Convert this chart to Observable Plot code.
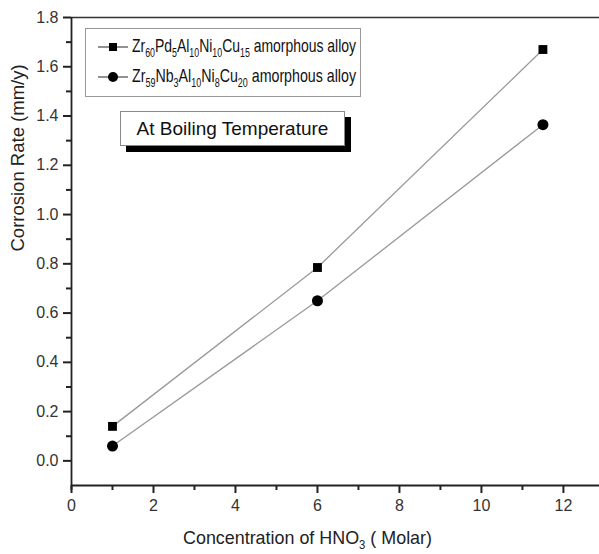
<!DOCTYPE html>
<html><head><meta charset="utf-8">
<script src="https://cdn.jsdelivr.net/npm/d3@7"></script>
<script src="https://cdn.jsdelivr.net/npm/@observablehq/plot@0.6"></script>
<style>
body{margin:0;background:#fff;font-family:"Liberation Sans",Arial,sans-serif;}
#wrap{position:relative;width:599px;height:554px;}
.legend{position:absolute;left:85px;top:28px;width:276px;height:69px;border:1px solid #999;background:#fff;box-sizing:border-box;}
.row{position:absolute;left:12px;height:20px;white-space:nowrap;}
.row svg{position:absolute;left:0;top:4px;}
.row .txt{position:absolute;left:34px;top:-2px;font-size:19px;color:#111;transform-origin:0 50%;display:inline-block;}
sub{font-size:12px;vertical-align:-5px;line-height:0;}
.note{position:absolute;left:120px;top:111px;width:225px;height:35px;border:1px solid #888;background:#fff;box-sizing:border-box;box-shadow:6px 6px 0 #000;font-size:19px;color:#111;text-align:center;line-height:33px;}
.xlab{position:absolute;top:527px;font-size:19px;color:#222;white-space:nowrap;transform-origin:0 50%;}
</style></head>
<body><div id="wrap"></div>
<script>
const xVals = [1, 6, 11.5];
const pdAlloy = [0.14, 0.785, 1.67];
const nbAlloy = [0.06, 0.65, 1.365];
const yMajor = [0, 0.2, 0.4, 0.6, 0.8, 1.0, 1.2, 1.4, 1.6, 1.8];
const yMinor = [0.1, 0.3, 0.5, 0.7, 0.9, 1.1, 1.3, 1.5, 1.7];
const xMajor = [0, 2, 4, 6, 8, 10, 12];
const xMinor = [1, 3, 5, 7, 9, 11];

const pdRows = xVals.map((x, i) => ({x, y: pdAlloy[i]}));
const nbRows = xVals.map((x, i) => ({x, y: nbAlloy[i]}));
const axisStroke = "#222";

const chart = Plot.plot({
  width: 599, height: 554,
  marginLeft: 71, marginTop: 17, marginBottom: 69, marginRight: 0,
  style: {fontFamily: "Liberation Sans, Arial, sans-serif", background: "#fff", color: "#222"},
  x: {domain: [0, 12.88]},
  y: {domain: [-0.1, 1.8]},
  marks: [
    Plot.ruleY([1.8], {stroke: "#333", strokeWidth: 1.4}),
    Plot.ruleY(yMajor, {y: d => d, x1: 0, x2: 0, insetLeft: -8, stroke: axisStroke, strokeWidth: 2}),
    Plot.ruleY(yMinor, {y: d => d, x1: 0, x2: 0, insetLeft: -5, stroke: axisStroke, strokeWidth: 2}),
    Plot.ruleX(xMajor, {x: d => d, y1: -0.1, y2: -0.1, insetBottom: -8, stroke: axisStroke, strokeWidth: 2}),
    Plot.ruleX(xMinor, {x: d => d, y1: -0.1, y2: -0.1, insetBottom: -5, stroke: axisStroke, strokeWidth: 2}),
    Plot.ruleY([-0.1], {stroke: axisStroke, strokeWidth: 1.8}),
    Plot.ruleX([0], {stroke: axisStroke, strokeWidth: 1.8, insetBottom: -5}),
    Plot.axisY({ticks: yMajor, tickSize: 0, tickPadding: 13, tickFormat: d3.format(".1f"), fontSize: 16, fill: "#333", label: null}),
    Plot.axisX({ticks: xMajor, tickSize: 0, tickPadding: 14, fontSize: 16, fill: "#333", label: null}),
    Plot.text(["Corrosion Rate (mm/y)"], {frameAnchor: "left", rotate: -90, dx: -53, fontSize: 18.5, fill: "#222"}),
    Plot.line(pdRows, {x: "x", y: "y", stroke: "#999", strokeWidth: 1.3}),
    Plot.line(nbRows, {x: "x", y: "y", stroke: "#999", strokeWidth: 1.3}),
    Plot.dot(pdRows, {x: "x", y: "y", symbol: "square", r: 5, fill: "#000", stroke: "none"}),
    Plot.dot(nbRows, {x: "x", y: "y", symbol: "circle", r: 5.5, fill: "#000", stroke: "none"})
  ]
});
const wrap = document.getElementById("wrap");
wrap.appendChild(chart);

const sq = '<svg width="30" height="12"><line x1="0" y1="6" x2="30" y2="6" stroke="#555" stroke-width="1.3"/><rect x="11" y="2" width="8" height="8" fill="#000"/></svg>';
const ci = '<svg width="30" height="12"><line x1="0" y1="6" x2="30" y2="6" stroke="#555" stroke-width="1.3"/><circle cx="15" cy="6" r="5" fill="#000"/></svg>';
const legend = document.createElement("div");
legend.className = "legend";
legend.innerHTML =
  '<div class="row" style="top:8px">' + sq + '<span class="txt">Zr<sub>60</sub>Pd<sub>5</sub>Al<sub>10</sub>Ni<sub>10</sub>Cu<sub>15</sub> amorphous alloy</span></div>' +
  '<div class="row" style="top:38px">' + ci + '<span class="txt">Zr<sub>59</sub>Nb<sub>3</sub>Al<sub>10</sub>Ni<sub>8</sub>Cu<sub>20</sub> amorphous alloy</span></div>';
wrap.appendChild(legend);
legend.querySelectorAll(".txt").forEach(t => {
  const w = t.getBoundingClientRect().width;
  t.style.transform = `scaleX(${224 / w})`;
});
const note = document.createElement("div");
note.className = "note";
note.textContent = "At Boiling Temperature";
wrap.appendChild(note);
const xlab = document.createElement("div");
xlab.className = "xlab";
xlab.innerHTML = 'Concentration of HNO<sub>3</sub> ( Molar)';
wrap.appendChild(xlab);
const xw = xlab.getBoundingClientRect().width;
xlab.style.left = "183px";
xlab.style.transform = `scaleX(${249 / xw})`;
</script></body></html>
